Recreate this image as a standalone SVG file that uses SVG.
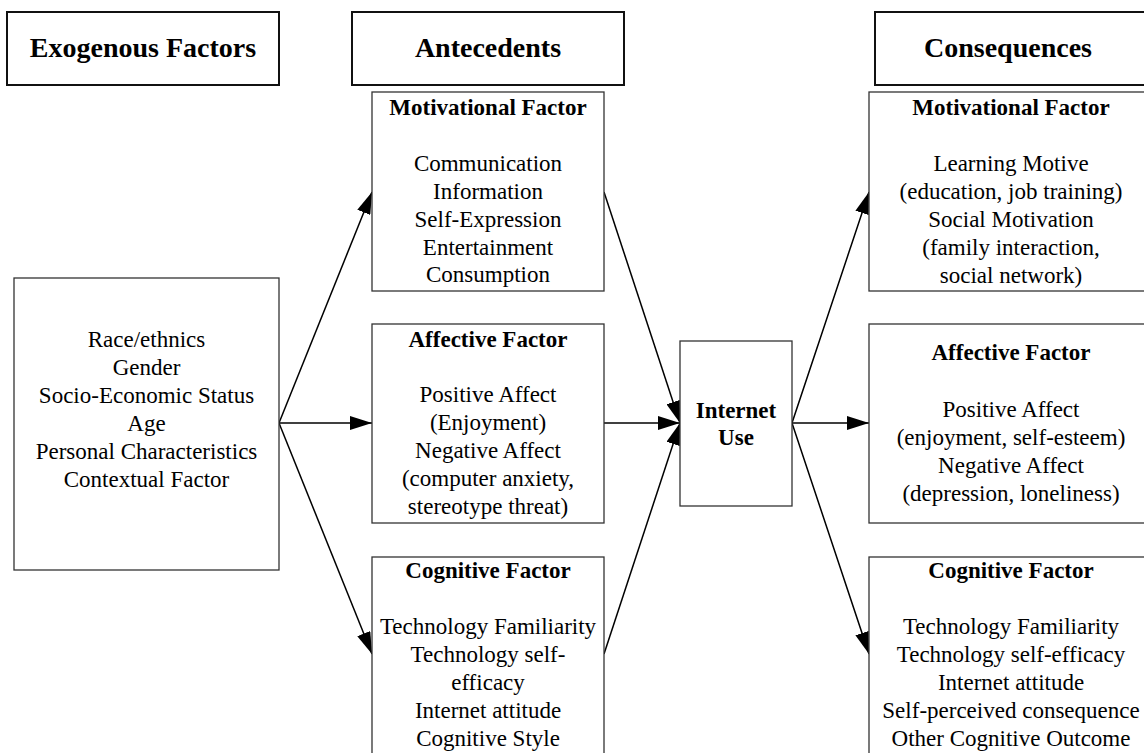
<svg xmlns="http://www.w3.org/2000/svg" width="1144" height="753" viewBox="0 0 1144 753">
  <style>
    .hdr { fill: #fff; stroke: #111; stroke-width: 2; }
    .box { fill: #fff; stroke: #333; stroke-width: 1.3; }
    text { fill: #000; text-anchor: middle; }
    .h { font-size: 28px; font-weight: bold; }
    .t { font-size: 23px; font-weight: bold; }
    .b { font-size: 23px; }
    .edge { stroke: #000; stroke-width: 1.5; fill: none; marker-end: url(#arrow); }
  </style>
  <defs>
    <marker id="arrow" markerUnits="userSpaceOnUse" markerWidth="22" markerHeight="14" refX="22" refY="7" orient="auto">
      <path d="M0,0 L22,7 L0,14 z" fill="#000"/>
    </marker>
  </defs>
  <rect width="1144" height="753" fill="#fff"/>

  <g font-family="'Liberation Serif', Tinos, 'Times New Roman', Times, 'DejaVu Serif', serif">
  <!-- column headers -->
  <g id="hdr-exogenous">
    <rect class="hdr" x="7" y="12" width="272" height="73"/>
    <text class="h" x="143" y="57">Exogenous Factors</text>
  </g>
  <g id="hdr-antecedents">
    <rect class="hdr" x="352" y="12" width="272" height="73"/>
    <text class="h" x="488" y="57">Antecedents</text>
  </g>
  <g id="hdr-consequences">
    <rect class="hdr" x="875" y="12" width="272" height="73"/>
    <text class="h" x="1008" y="57">Consequences</text>
  </g>

  <!-- connectors -->
  <g id="connectors">
    <line class="edge" x1="279" y1="423" x2="372" y2="192"/>
    <line class="edge" x1="279" y1="423" x2="372" y2="423"/>
    <line class="edge" x1="279" y1="423" x2="372" y2="654"/>
    <line class="edge" x1="604" y1="192" x2="680" y2="423"/>
    <line class="edge" x1="604" y1="423" x2="680" y2="423"/>
    <line class="edge" x1="604" y1="654" x2="680" y2="423"/>
    <line class="edge" x1="792" y1="423" x2="869" y2="192"/>
    <line class="edge" x1="792" y1="423" x2="869" y2="423"/>
    <line class="edge" x1="792" y1="423" x2="869" y2="654"/>
  </g>

  <!-- exogenous factors -->
  <g id="exogenous">
    <rect class="box" x="14" y="278" width="265" height="292"/>
    <text class="b" x="146.5" y="347">Race/ethnics</text>
    <text class="b" x="146.5" y="375">Gender</text>
    <text class="b" x="146.5" y="403">Socio-Economic Status</text>
    <text class="b" x="146.5" y="431">Age</text>
    <text class="b" x="146.5" y="459">Personal Characteristics</text>
    <text class="b" x="146.5" y="487">Contextual Factor</text>
  </g>

  <!-- antecedents -->
  <g id="ante-motivational">
    <rect class="box" x="372" y="92" width="232" height="199"/>
    <text class="t" x="488" y="115">Motivational Factor</text>
    <text class="b" x="488" y="171">Communication</text>
    <text class="b" x="488" y="199">Information</text>
    <text class="b" x="488" y="227">Self-Expression</text>
    <text class="b" x="488" y="255">Entertainment</text>
    <text class="b" x="488" y="282">Consumption</text>
  </g>
  <g id="ante-affective">
    <rect class="box" x="372" y="324" width="232" height="199"/>
    <text class="t" x="488" y="347">Affective Factor</text>
    <text class="b" x="488" y="402">Positive Affect</text>
    <text class="b" x="488" y="430">(Enjoyment)</text>
    <text class="b" x="488" y="458">Negative Affect</text>
    <text class="b" x="488" y="486">(computer anxiety,</text>
    <text class="b" x="488" y="514">stereotype threat)</text>
  </g>
  <g id="ante-cognitive">
    <rect class="box" x="372" y="557" width="232" height="210"/>
    <text class="t" x="488" y="578">Cognitive Factor</text>
    <text class="b" x="488" y="634">Technology Familiarity</text>
    <text class="b" x="488" y="662">Technology self-</text>
    <text class="b" x="488" y="690">efficacy</text>
    <text class="b" x="488" y="718">Internet attitude</text>
    <text class="b" x="488" y="746">Cognitive Style</text>
  </g>

  <!-- internet use -->
  <g id="internet-use">
    <rect class="box" x="680" y="341" width="112" height="165"/>
    <text class="t" x="736" y="418">Internet</text>
    <text class="t" x="736" y="445">Use</text>
  </g>

  <!-- consequences -->
  <g id="cons-motivational">
    <rect class="box" x="869" y="92" width="284" height="199"/>
    <text class="t" x="1011" y="115">Motivational Factor</text>
    <text class="b" x="1011" y="171">Learning Motive</text>
    <text class="b" x="1011" y="199">(education, job training)</text>
    <text class="b" x="1011" y="227">Social Motivation</text>
    <text class="b" x="1011" y="255">(family interaction,</text>
    <text class="b" x="1011" y="283">social network)</text>
  </g>
  <g id="cons-affective">
    <rect class="box" x="869" y="324" width="284" height="199"/>
    <text class="t" x="1011" y="360">Affective Factor</text>
    <text class="b" x="1011" y="417">Positive Affect</text>
    <text class="b" x="1011" y="445">(enjoyment, self-esteem)</text>
    <text class="b" x="1011" y="473">Negative Affect</text>
    <text class="b" x="1011" y="501">(depression, loneliness)</text>
  </g>
  <g id="cons-cognitive">
    <rect class="box" x="869" y="557" width="284" height="210"/>
    <text class="t" x="1011" y="578">Cognitive Factor</text>
    <text class="b" x="1011" y="634">Technology Familiarity</text>
    <text class="b" x="1011" y="662">Technology self-efficacy</text>
    <text class="b" x="1011" y="690">Internet attitude</text>
    <text class="b" x="1011" y="718">Self-perceived consequence</text>
    <text class="b" x="1011" y="746">Other Cognitive Outcome</text>
  </g>
  </g>
</svg>
